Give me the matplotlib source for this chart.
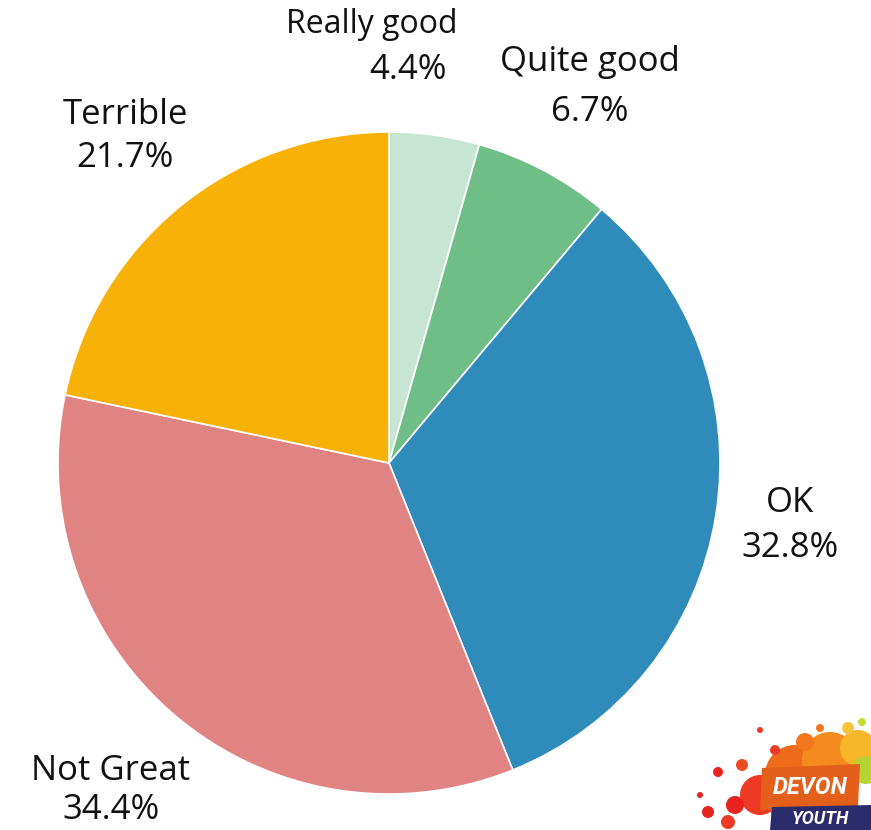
import matplotlib

matplotlib.use("Agg")
import matplotlib.pyplot as plt
from matplotlib.patches import Circle, Polygon

# Survey responses, clockwise from 12 o'clock
categories = ["Really good", "Quite good", "OK", "Not Great", "Terrible"]
shares = [4.4, 6.7, 32.8, 34.4, 21.7]
colours = ["#C7E5D3", "#6FBD87", "#2E8BBA", "#E08383", "#F8B107"]

# label anchor points (pixel space, y down): name line, value line
name_pos = [(372, 25), (590, 62), (790, 503), (111, 771), (125, 115)]
value_pos = [(408, 70), (590, 112), (790, 548), (111, 810), (125, 158)]
name_size = [23, 25, 25, 25, 25]

W, H = 871, 830
fig = plt.figure(figsize=(W / 100, H / 100), dpi=100)
ax = fig.add_axes([0, 0, 1, 1])

ax.pie(
    shares,
    colors=colours,
    startangle=90,
    counterclock=False,
    center=(389, H - 463),
    radius=331,
    wedgeprops=dict(edgecolor="white", linewidth=1.2),
    frame=True,
)
ax.set_xlim(0, W)
ax.set_ylim(0, H)
ax.set_aspect("equal")
ax.axis("off")

font = ["Open Sans", "DejaVu Sans"]
for cat, val, (nx, ny), (vx, vy), fs in zip(categories, shares, name_pos,
                                            value_pos, name_size):
    ax.text(nx, H - ny, cat, ha="center", va="center", fontsize=fs,
            family=font, color="#111111")
    ax.text(vx, H - vy, f"{val:.1f}%", ha="center", va="center", fontsize=25,
            family=font, color="#111111")

# small "Devon Youth" badge in the corner: paint splash behind two banners
splash = [
    (795, 775, 30, "#F06A1C"), (830, 760, 28, "#F58A1F"), (858, 748, 18, "#F7B52A"),
    (866, 770, 14, "#B5D334"), (760, 795, 20, "#EE3A24"), (735, 805, 9, "#E8221F"),
    (718, 772, 5, "#E8221F"), (708, 812, 6, "#E8221F"), (742, 765, 6, "#EF4B22"),
    (805, 742, 9, "#F4761F"), (775, 750, 5, "#EE3A24"), (848, 728, 6, "#F9C33A"),
    (862, 722, 4, "#C7DB3A"), (728, 822, 7, "#EE3A24"), (785, 812, 14, "#F06A1C"),
    (700, 795, 3, "#E8221F"), (760, 730, 3, "#EE3A24"), (820, 728, 4, "#F4761F"),
]
for sx, sy, r, c in splash:
    ax.add_patch(Circle((sx, H - sy), r, facecolor=c, edgecolor="none", zorder=3))

ax.add_patch(Polygon([(762, H - 768), (860, H - 764), (858, H - 807), (760, H - 810)],
                     closed=True, facecolor="#E4601A", edgecolor="none", zorder=4))
ax.text(810, H - 787, "DEVON", ha="center", va="center", fontsize=17, weight="bold",
        style="italic", color="white", family=["Roboto", "DejaVu Sans"], zorder=5)
ax.add_patch(Polygon([(772, H - 807), (871, H - 805), (871, H - 830), (770, H - 830)],
                     closed=True, facecolor="#2C2C6C", edgecolor="none", zorder=4))
ax.text(820, H - 819, "YOUTH", ha="center", va="center", fontsize=13, weight="bold",
        style="italic", color="white", family=["Roboto", "DejaVu Sans"], zorder=5)

fig.savefig("out.png", dpi=100)
